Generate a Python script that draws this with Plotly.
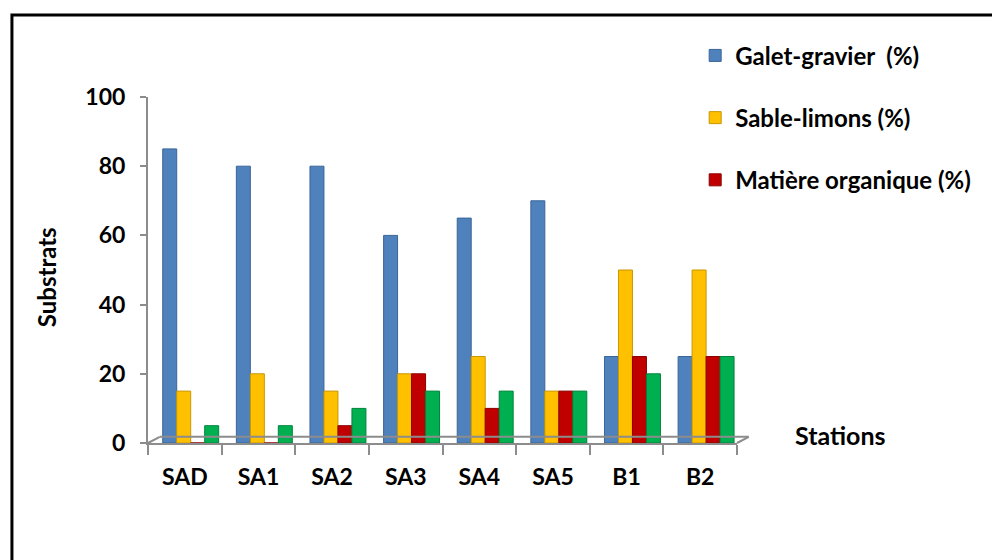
import plotly.graph_objects as go

stations = ["SAD", "SA1", "SA2", "SA3", "SA4", "SA5", "B1", "B2"]
galet_gravier = [85, 80, 80, 60, 65, 70, 25, 25]
sable_limons = [15, 20, 15, 20, 25, 15, 50, 50]
matiere_organique = [0, 0, 5, 20, 10, 15, 25, 25]
vegetation = [5, 5, 10, 15, 15, 15, 20, 25]
y_ticks = [0, 20, 40, 60, 80, 100]

series = [
    ("Galet-gravier  (%)", galet_gravier, "#4F81BD", "#3A6597", True),
    ("Sable-limons (%)", sable_limons, "#FFC000", "#C89600", True),
    ("Matière organique (%)", matiere_organique, "#C00000", "#8C0000", True),
    ("Végétation (%)", vegetation, "#00B050", "#00833B", False),
]

BOLD = dict(family="Lato", weight="bold", color="black")
BAR_W = 0.19
FIRST_OFFSET = -0.30  # groups sit slightly right of centre (depth effect)

fig = go.Figure()
for i, (name, vals, col, edge, show) in enumerate(series):
    fig.add_trace(go.Bar(
        x=stations, y=vals, name=name,
        width=BAR_W, offset=FIRST_OFFSET + i * BAR_W,
        marker=dict(color=col, line=dict(color=edge, width=1)),
        showlegend=show, legendgroup=f"g{i}",
    ))

fig.update_layout(
    width=992, height=560,
    margin=dict(l=148, r=255, t=97, b=117, autoexpand=False),
    paper_bgcolor="white", plot_bgcolor="white",
    barmode="group",
    font=BOLD,
    legend=dict(
        x=0.929, y=1.184, xanchor="left", yanchor="top",
        traceorder="grouped", tracegroupgap=28,
        font=dict(size=24, **BOLD),
        itemwidth=30,
    ),
    xaxis=dict(
        showline=True, linecolor="#8C8C8C", linewidth=2,
        ticks="outside", tickson="boundaries", ticklen=10,
        tickcolor="#8C8C8C", tickwidth=1.5,
        tickfont=dict(size=23, **BOLD),
        ticklabelstandoff=12,
        showgrid=False,
    ),
    yaxis=dict(
        range=[0, 100], tickvals=y_ticks,
        showline=True, linecolor="#8C8C8C", linewidth=2,
        ticks="outside", ticklen=6, tickcolor="#8C8C8C", tickwidth=1.5,
        tickfont=dict(size=23, **BOLD),
        ticklabelstandoff=10,
        showgrid=False, zeroline=False,
    ),
    shapes=[
        # outer chart frame
        dict(type="rect", xref="paper", yref="paper",
             x0=-0.231, x1=1.5, y0=-1.0, y1=1.237,
             line=dict(color="black", width=3), layer="below"),
        # back edge of the floor
        dict(type="line", xref="paper", yref="paper",
             x0=0.02, x1=1.02, y0=0.018, y1=0.018,
             line=dict(color="#8C8C8C", width=2)),
        dict(type="line", xref="paper", yref="paper",
             x0=1.0, x1=1.02, y0=0.0, y1=0.018,
             line=dict(color="#8C8C8C", width=2)),
        dict(type="line", xref="paper", yref="paper",
             x0=0.0, x1=0.02, y0=0.0, y1=0.018,
             line=dict(color="#8C8C8C", width=2)),
    ],
    annotations=[
        dict(text="Substrats", xref="paper", yref="paper",
             x=-0.171, y=0.48, xanchor="center", yanchor="middle",
             textangle=-90, showarrow=False,
             font=dict(size=24, **BOLD)),
        dict(text="Stations", xref="paper", yref="paper",
             x=1.175, y=0.023, xanchor="center", yanchor="middle",
             showarrow=False,
             font=dict(size=25, **BOLD)),
    ],
)

fig.write_html("out.html")
